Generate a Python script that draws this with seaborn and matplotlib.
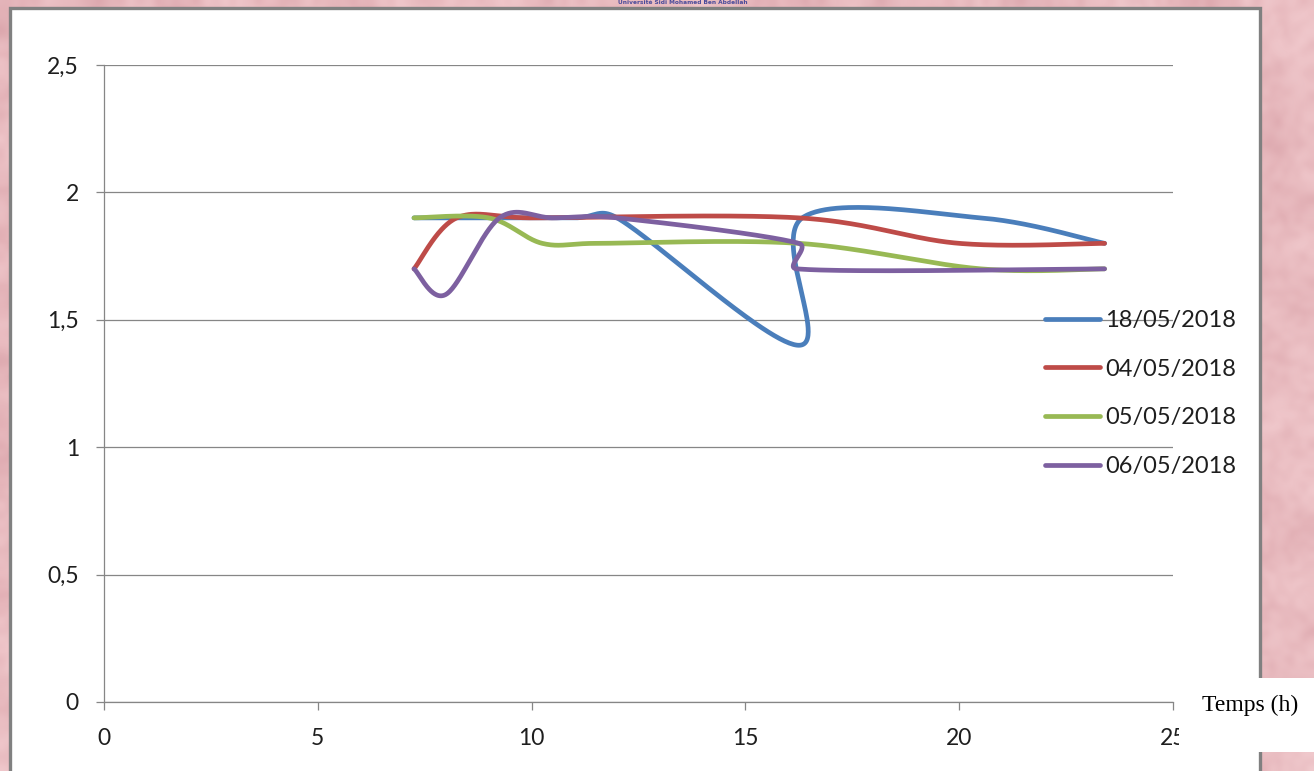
import numpy as np
import matplotlib
matplotlib.use("Agg")
import matplotlib.pyplot as plt
import seaborn as sns
from matplotlib.patches import Rectangle
from matplotlib.colors import LinearSegmentedColormap
from matplotlib.ticker import FuncFormatter

# Mesures : temps (h) et valeurs pour chaque journée
dates = ["18/05/2018", "04/05/2018", "05/05/2018", "06/05/2018"]

t_18_05 = [7.25, 11, 12, 16.25, 16.33, 20.5, 23.4]
v_18_05 = [1.9, 1.9, 1.9, 1.4, 1.9, 1.9, 1.8]

t_04_05 = [7.25, 8.25, 10, 16.25, 20, 23.4]
v_04_05 = [1.7, 1.9, 1.9, 1.9, 1.8, 1.8]

t_05_05 = [7.25, 9, 10.25, 11.5, 16.25, 20.5, 23.4]
v_05_05 = [1.9, 1.9, 1.8, 1.8, 1.8, 1.7, 1.7]

t_06_05 = [7.25, 8, 9.25, 10.5, 12, 16.25, 16.2, 23.4]
v_06_05 = [1.7, 1.6, 1.9, 1.9, 1.9, 1.8, 1.7, 1.7]

series_t = [t_18_05, t_04_05, t_05_05, t_06_05]
series_v = [v_18_05, v_04_05, v_05_05, v_06_05]
colors = ["#4A7EBB", "#BE4B48", "#98B954", "#7D60A0"]

x_ticks = [0, 5, 10, 15, 20, 25]
y_ticks = [0, 0.5, 1, 1.5, 2, 2.5]

W, H = 1314, 771
sns.set_theme(style="white")
plt.rcParams["font.family"] = ["Lato", "DejaVu Sans"]

fig = plt.figure(figsize=(W / 100, H / 100), dpi=100)

# Fond marbré rose
bg = fig.add_axes([0, 0, 1, 1], zorder=-10)
bg.set_axis_off()
rng = np.random.default_rng(11)
marble = LinearSegmentedColormap.from_list(
    "marble", ["#d49ca3", "#e4b3b8", "#eec4c8", "#f4d2d5"])
coarse = rng.random((30, 52))
fine = rng.random((120, 206))
bg.imshow(coarse, cmap=marble, interpolation="bicubic", extent=[0, 1, 0, 1],
          aspect="auto", vmin=-0.1, vmax=1.1)
bg.imshow(fine, cmap=marble, interpolation="bicubic", extent=[0, 1, 0, 1],
          aspect="auto", alpha=0.35)
bg.set_xlim(0, 1)
bg.set_ylim(0, 1)

# Panneau blanc du graphique
panel = Rectangle((9.5 / W, -0.05), (1260 - 9.5) / W, 1 - 8.5 / H + 0.05,
                  transform=fig.transFigure, facecolor="white",
                  edgecolor="#808080", linewidth=2.4, zorder=1)
fig.patches.append(panel)

fig.text(683 / W, 1 - 3 / H, "Université Sidi Mohamed Ben Abdellah",
         fontsize=4.2, color="#4a4a9a", ha="center", va="center",
         weight="bold", family="DejaVu Sans")

ax = fig.add_axes([104 / W, 1 - 702 / H, (1173 - 104) / W, (702 - 65) / H],
                  zorder=2)
ax.patch.set_alpha(0)
ax.set_xlim(0, 25)
ax.set_ylim(0, 2.5)


def smooth_curve(ax, xs, ys, n=60):
    """Courbe lissée (Bézier type Catmull-Rom) calculée en coordonnées écran."""
    pts = ax.transData.transform(np.column_stack([xs, ys]))
    m = len(pts)
    out = [pts[0]]
    s = np.linspace(0, 1, n)[1:]
    for i in range(m - 1):
        p0 = pts[i - 1] if i > 0 else pts[i]
        p1, p2 = pts[i], pts[i + 1]
        p3 = pts[i + 2] if i + 2 < m else pts[i + 1]
        seg = np.linalg.norm(p2 - p1)
        t1 = (p2 - p0) / 6.0
        t2 = (p3 - p1) / 6.0
        for t in (t1, t2):
            L = np.linalg.norm(t)
            if L > seg / 2 and L > 0:
                t *= (seg / 2) / L
        c1, c2 = p1 + t1, p2 - t2
        b = ((1 - s) ** 3)[:, None] * p1 + (3 * (1 - s) ** 2 * s)[:, None] * c1 \
            + (3 * (1 - s) * s ** 2)[:, None] * c2 + (s ** 3)[:, None] * p2
        out.extend(b)
    out = np.array(out)
    data = ax.transData.inverted().transform(out)
    return data[:, 0], data[:, 1]


for tv, vv, col, lab in zip(series_t, series_v, colors, dates):
    cx, cy = smooth_curve(ax, tv, vv)
    sns.lineplot(x=cx, y=cy, sort=False, estimator=None, color=col,
                 linewidth=3.4, ax=ax, label=lab, solid_capstyle="round")

ax.set_xticks(x_ticks)
ax.set_yticks(y_ticks)
fmt = FuncFormatter(lambda v, p: f"{v:g}".replace(".", ","))
ax.xaxis.set_major_formatter(fmt)
ax.yaxis.set_major_formatter(fmt)
ax.tick_params(axis="both", direction="out", length=6, width=0.9,
               color="#868686", labelsize=16.5, labelcolor="#1e1e1e",
               bottom=True, left=True)
ax.tick_params(axis="x", pad=13)
ax.tick_params(axis="y", pad=12)
ax.yaxis.grid(True, color="#868686", linewidth=0.9)
ax.xaxis.grid(False)
ax.set_axisbelow(True)
for side in ("top", "right"):
    ax.spines[side].set_visible(False)
for side in ("left", "bottom"):
    ax.spines[side].set_color("#868686")
    ax.spines[side].set_linewidth(0.9)
ax.set_xlabel("")
ax.set_ylabel("")

leg = ax.legend(loc="upper left", bbox_to_anchor=(1045 / W, 1 - 310 / H),
                bbox_transform=fig.transFigure, frameon=False, fontsize=17,
                handlelength=2.35, handletextpad=0.2, labelspacing=1.17,
                borderpad=0, borderaxespad=0)
for line in leg.get_lines():
    line.set_linewidth(3.4)
for txt in leg.get_texts():
    txt.set_color("#1e1e1e")

# Étiquette de l'axe des temps dans son cadre blanc
box = Rectangle((1179 / W, 1 - 752 / H), (W - 1179) / W, (752 - 678) / H,
                transform=fig.transFigure, facecolor="white",
                edgecolor="none", zorder=3)
fig.patches.append(box)
fig.text(1250 / W, 1 - 705 / H, "Temps (h)", family="Liberation Serif",
         fontsize=17, color="black", ha="center", va="center", zorder=4)

fig.savefig("out.png", dpi=100)
